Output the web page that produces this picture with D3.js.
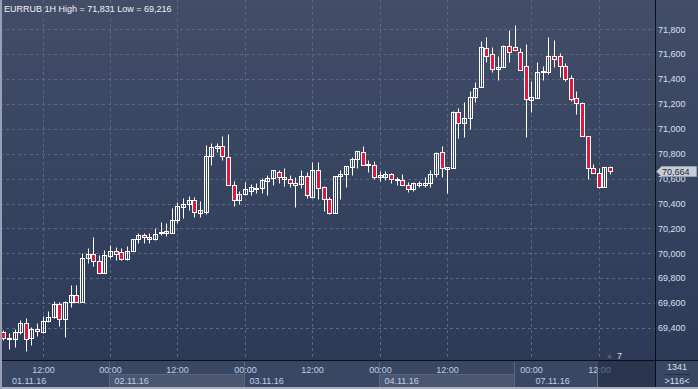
<!DOCTYPE html>
<html>
<head>
<meta charset="utf-8">
<script src="https://cdn.jsdelivr.net/npm/d3@7"></script>
<style>
	html, body { margin: 0; padding: 0; background: #2e3b58; }
	svg { display: block; }
	text { font-family: "Liberation Sans", Arial, sans-serif; font-size: 9px; }
</style>
</head>
<body>
<svg id="chart" width="698" height="389"></svg>
<script>
// EURRUB hourly candles, 01.11.16 - 07.11.16
const title = "EURRUB 1H High = 71,831 Low = 69,216";

const open = [
	69368, 69312, 69312, 69368, 69440, 69320, 69392, 69368, 69456, 69488,
	69593, 69472, 69609, 69665, 69609, 69962, 69995, 69938, 69842, 69978,
	70019, 70011, 69954, 70019, 70115, 70147, 70115, 70115, 70163, 70163,
	70163, 70268, 70372, 70396, 70428, 70324, 70332, 70782, 70846, 70862,
	70774, 70549, 70428, 70477, 70501, 70517, 70525, 70581, 70605, 70653,
	70597, 70597, 70565, 70557, 70621, 70452, 70669, 70533, 70436, 70324,
	70621, 70637, 70694, 70758, 70814, 70710, 70710, 70613, 70613, 70637,
	70589, 70589, 70549, 70517, 70549, 70549, 70565, 70637, 70814, 70677,
	70685, 71136, 71047, 71087, 71256, 71336, 71650, 71602, 71481, 71497,
	71666, 71658, 71618, 71505, 71232, 71248, 71457, 71457, 71586, 71586,
	71505, 71409, 71248, 71208, 70943, 70685, 70645, 70533, 70694,
];
const high = [
	69384, 69360, 69392, 69464, 69480, 69408, 69440, 69496, 69537, 69617,
	69609, 69617, 69745, 69745, 70003, 70043, 70131, 69986, 70027, 70067,
	70051, 70043, 70059, 70118, 70163, 70163, 70163, 70203, 70252, 70244,
	70364, 70412, 70444, 70460, 70452, 70420, 70870, 70886, 70886, 70943,
	70959, 70581, 70501, 70573, 70557, 70565, 70605, 70629, 70672, 70669,
	70685, 70629, 70613, 70669, 70653, 70734, 70734, 70537, 70452, 70625,
	70669, 70705, 70774, 70826, 70862, 70750, 70742, 70661, 70661, 70645,
	70613, 70637, 70573, 70573, 70581, 70613, 70669, 70814, 70862, 70697,
	71144, 71168, 71216, 71304, 71376, 71706, 71738, 71658, 71586, 71674,
	71794, 71831, 71650, 71682, 71385, 71537, 71505, 71738, 71714, 71610,
	71529, 71433, 71304, 71216, 70946, 70718, 70685, 70697, 70702,
];
const low = [
	69304, 69231, 69247, 69352, 69216, 69263, 69336, 69360, 69448, 69480,
	69416, 69328, 69569, 69605, 69605, 69922, 69898, 69838, 69838, 69962,
	69946, 69946, 69946, 70016, 70083, 70083, 70083, 70107, 70147, 70139,
	70160, 70244, 70284, 70348, 70292, 70292, 70316, 70710, 70814, 70750,
	70545, 70380, 70396, 70469, 70469, 70485, 70485, 70469, 70549, 70565,
	70541, 70533, 70372, 70525, 70444, 70448, 70436, 70340, 70316, 70320,
	70436, 70533, 70629, 70685, 70706, 70653, 70597, 70581, 70589, 70565,
	70549, 70545, 70493, 70501, 70533, 70533, 70533, 70613, 70613, 70485,
	70682, 70927, 70935, 70999, 71216, 71333, 71537, 71457, 71393, 71494,
	71537, 71630, 71470, 70935, 71136, 71245, 71393, 71441, 71497, 71417,
	71385, 71224, 71120, 70940, 70597, 70642, 70525, 70530, 70637,
];
const close = [
	69320, 69320, 69368, 69440, 69312, 69392, 69376, 69456, 69488, 69593,
	69472, 69609, 69665, 69609, 69962, 69995, 69938, 69842, 69986, 70019,
	69995, 69954, 70019, 70115, 70147, 70131, 70131, 70155, 70171, 70179,
	70268, 70380, 70396, 70428, 70332, 70348, 70782, 70854, 70862, 70782,
	70549, 70428, 70477, 70517, 70533, 70525, 70589, 70605, 70669, 70613,
	70613, 70565, 70549, 70621, 70469, 70669, 70525, 70436, 70324, 70621,
	70637, 70702, 70758, 70822, 70710, 70718, 70613, 70629, 70637, 70597,
	70597, 70549, 70517, 70565, 70565, 70565, 70637, 70806, 70685, 70694,
	71136, 71047, 71087, 71256, 71328, 71658, 71586, 71481, 71497, 71666,
	71618, 71634, 71473, 71240, 71256, 71457, 71465, 71586, 71562, 71505,
	71401, 71240, 71208, 70943, 70685, 70645, 70533, 70694, 70664,
];

const priceTicks = [69400, 69600, 69800, 70000, 70200, 70400, 70600, 70800, 71000, 71200, 71400, 71600, 71800];
const timeTickIdx = [7, 19, 31, 43, 55, 67, 79, 94, 106];
const timeTickLabels = ["12:00", "00:00", "12:00", "00:00", "12:00", "00:00", "12:00", "00:00", "12:00"];
const dayStartIdx = [0, 19, 43, 67, 91];
const dayLabelIdx = [0, 19, 43, 67, 94];
const dayLabels = ["01.11.16", "02.11.16", "03.11.16", "04.11.16", "07.11.16"];
const slotCount = 116;
const totalBars = "1341";
const markerCount = "7";

const W = 698, H = 389;
const plotRight = 655, plotBottom = 360;
const bull = "#ffffff", bear = "#e2173d", gridColor = "#5b6884";
const labelColor = "#d6e0ef", timeColor = "#bcd0ec";

const svg = d3.select("#chart");
const defs = svg.append("defs");
const grad = defs.append("linearGradient")
	.attr("id", "bg").attr("x1", 0).attr("y1", 0).attr("x2", 0).attr("y2", 1);
grad.append("stop").attr("offset", "0%").attr("stop-color", "#424e68");
grad.append("stop").attr("offset", "100%").attr("stop-color", "#2c3a58");

svg.append("rect").attr("width", W).attr("height", plotBottom).attr("fill", "url(#bg)");

const x = d3.scaleBand().domain(d3.range(slotCount)).range([0.5, 652.2]);
const cx = (i) => Math.round(x(i) + x.bandwidth() / 2) + 0.5;
const y = d3.scaleLinear().domain([69400, 71800]).range([328, 29.3]);
const py = (v) => Math.round(y(v)) + 0.5;
const fmt = d3.format(",");

// grid
const grid = svg.append("g").attr("stroke", gridColor).attr("stroke-dasharray", "3,3");
grid.selectAll("line.h").data(priceTicks).enter().append("line")
	.attr("x1", 0).attr("x2", plotRight)
	.attr("y1", (d) => py(d)).attr("y2", (d) => py(d));
grid.selectAll("line.v").data(timeTickIdx).enter().append("line")
	.attr("y1", 0).attr("y2", plotBottom)
	.attr("x1", (d) => cx(d)).attr("x2", (d) => cx(d));

// candles
const candles = open.map((o, i) => ({i, o, h: high[i], l: low[i], c: close[i]}));
const cg = svg.append("g").attr("stroke", "#ffffff").attr("stroke-width", 1);
cg.selectAll("line").data(candles).enter().append("line")
	.attr("x1", (d) => cx(d.i)).attr("x2", (d) => cx(d.i))
	.attr("y1", (d) => py(d.h)).attr("y2", (d) => py(d.l));
cg.selectAll("rect").data(candles).enter().append("rect")
	.attr("x", (d) => cx(d.i) - 2)
	.attr("width", 4)
	.attr("y", (d) => py(Math.max(d.o, d.c)))
	.attr("height", (d) => Math.max(1, py(Math.min(d.o, d.c)) - py(Math.max(d.o, d.c))))
	.attr("fill", (d) => (d.c < d.o ? bear : "#34415e"))
	.attr("fill-opacity", (d) => (d.c < d.o ? 1 : 0));

// right price axis
svg.append("g").selectAll("text").data(priceTicks).enter().append("text")
	.attr("x", 658).attr("y", (d) => y(d) + 3.2)
	.attr("fill", labelColor).text((d) => fmt(d));

// bottom time axis panel
svg.append("rect").attr("x", 0).attr("y", plotBottom).attr("width", W).attr("height", H - plotBottom)
	.attr("fill", "#3a4762");

const dayBounds = dayStartIdx.map((d) => Math.round(x(d) + x.bandwidth() / 2) - 0.5);
const dayG = svg.append("g");
dayG.selectAll("rect").data(dayBounds).enter().append("rect")
	.filter((d, k) => k % 2 === 1)
	.attr("x", (d) => d).attr("y", 374.5)
	.attr("width", (d) => dayBounds[dayBounds.indexOf(d) + 1] - d || plotRight - d)
	.attr("height", 13)
	.attr("fill", "#4b5771").attr("stroke", "#58647e");
dayG.selectAll("line").data(dayBounds.slice(1)).enter().append("line")
	.attr("x1", (d) => d).attr("x2", (d) => d).attr("y1", 362).attr("y2", 387)
	.attr("stroke", "#5a6680");

svg.append("g").selectAll("text").data(timeTickIdx).enter().append("text")
	.attr("x", (d) => cx(d)).attr("y", 372.5).attr("text-anchor", "middle")
	.attr("fill", timeColor).text((d, k) => timeTickLabels[k]);

svg.append("g").selectAll("text").data(dayLabelIdx).enter().append("text")
	.attr("x", (d) => Math.max(12, cx(d) + 4)).attr("y", 383.5)
	.attr("fill", timeColor).text((d, k) => dayLabels[k]);

// scroll overlay at the right end of the time axis
svg.append("rect").attr("x", 598).attr("y", 361).attr("width", plotRight - 598).attr("height", 26)
	.attr("fill", "#1f2a42").attr("fill-opacity", 0.6);
svg.append("line").attr("x1", 597.5).attr("x2", 597.5).attr("y1", 369).attr("y2", 387)
	.attr("stroke", "#6b7690");
svg.append("path").attr("d", "M607,358L609.5,354L612,358Z").attr("fill", "#55607a");
svg.append("text").attr("x", 617).attr("y", 358.5).attr("fill", labelColor).text(markerCount);

// frame lines
svg.append("line").attr("x1", 0).attr("x2", W).attr("y1", plotBottom + 0.5).attr("y2", plotBottom + 0.5)
	.attr("stroke", "#0c0f16");
svg.append("line").attr("x1", plotRight + 0.5).attr("x2", plotRight + 0.5).attr("y1", 0).attr("y2", 387)
	.attr("stroke", "#0c0f16");

// bars counter box
svg.append("text").attr("x", 677).attr("y", 370).attr("text-anchor", "middle")
	.attr("fill", labelColor).text(totalBars);
svg.append("line").attr("x1", 665).attr("x2", 690).attr("y1", 374.5).attr("y2", 374.5)
	.attr("stroke", "#242e42");
svg.append("text").attr("x", 677).attr("y", 384).attr("text-anchor", "middle")
	.attr("fill", labelColor).text(">" + slotCount + "<");

// last price marker
const last = close[close.length - 1];
const ly = py(last);
svg.append("path")
	.attr("d", `M656.5,${ly}L661.5,${ly - 5}H696.5V${ly + 5}H661.5Z`)
	.attr("fill", "#c8ccd4").attr("stroke", "#9aa1ad");
svg.append("text").attr("x", 662).attr("y", ly + 3.5).attr("fill", "#262b38")
	.text(fmt(last));

// title
svg.append("text").attr("x", 4).attr("y", 12).attr("fill", "#f2f2f2").text(title);

// outer border
svg.append("rect").attr("x", 0).attr("y", 387).attr("width", W).attr("height", 2).attr("fill", "#a7b0be");
svg.append("rect").attr("x", 0).attr("y", 0).attr("width", 2).attr("height", H).attr("fill", "#96a1b3");
</script>
</body>
</html>
